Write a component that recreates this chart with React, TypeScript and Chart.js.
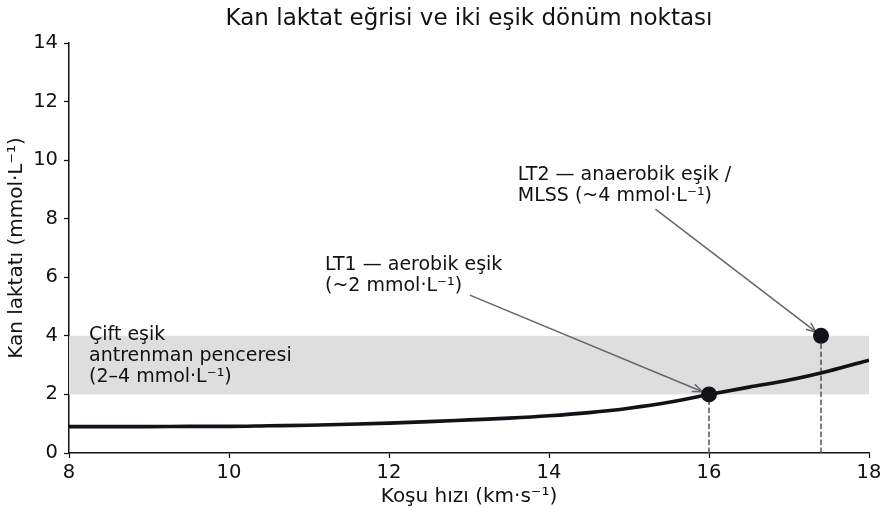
import React, { useEffect, useRef } from "react";
import { Chart, registerables } from "chart.js";

Chart.register(...registerables);

// Data
const speedKmS: number[] = [8, 8.5, 9, 9.5, 10, 10.5, 11, 11.5, 12, 12.5, 13, 13.5, 14, 14.5, 15, 15.5, 16, 16.5, 17, 17.5, 18];
const lactate: number[] = [0.9, 0.9, 0.9, 0.91, 0.91, 0.93, 0.95, 0.98, 1.02, 1.07, 1.13, 1.19, 1.27, 1.38, 1.53, 1.73, 2.0, 2.25, 2.49, 2.8, 3.17];

const thresholdSpeeds: number[] = [16, 17.4];
const thresholdLactate: number[] = [2, 4];

const bandRange: number[] = [2, 4];

const xTicks = { min: 8, max: 18, step: 2 };
const yTicks = { min: 0, max: 14, step: 2 };

const titleText = "Kan laktat eğrisi ve iki eşik dönüm noktası";
const xTitle = "Koşu hızı (km·s⁻¹)";
const yTitle = "Kan laktatı (mmol·L⁻¹)";

const bandLabel: string[] = ["Çift eşik", "antrenman penceresi", "(2–4 mmol·L⁻¹)"];
const bandLabelPos: number[] = [8.25, 3.86];

const lt1Label: string[] = ["LT1 — aerobik eşik", "(~2 mmol·L⁻¹)"];
const lt1LabelPos: number[] = [11.2, 6.25];
const lt1ArrowStart: number[] = [13.01, 5.39];

const lt2Label: string[] = ["LT2 — anaerobik eşik /", "MLSS (~4 mmol·L⁻¹)"];
const lt2LabelPos: number[] = [13.61, 9.32];
const lt2ArrowStart: number[] = [15.33, 8.33];

const FONT = '"DejaVu Sans", sans-serif';

export default function App() {
  const ref = useRef<HTMLCanvasElement | null>(null);

  useEffect(() => {
    if (!ref.current) return;

    const decor = {
      id: "decor",
      beforeDatasetsDraw(chart: any) {
        const { ctx, scales } = chart;
        const x = scales.x;
        const y = scales.y;
        ctx.save();
        // band
        ctx.fillStyle = "#dedede";
        const yTop = y.getPixelForValue(bandRange[1]);
        const yBot = y.getPixelForValue(bandRange[0]);
        const xl = x.getPixelForValue(xTicks.min);
        const xr = x.getPixelForValue(xTicks.max);
        ctx.fillRect(xl, yTop, xr - xl, yBot - yTop);
        // dashed drop lines
        ctx.strokeStyle = "#555555";
        ctx.lineWidth = 1.5;
        ctx.setLineDash([5.5, 2.5]);
        for (let i = 0; i < thresholdSpeeds.length; i++) {
          const px = x.getPixelForValue(thresholdSpeeds[i]);
          ctx.beginPath();
          ctx.moveTo(px, y.getPixelForValue(0));
          ctx.lineTo(px, y.getPixelForValue(thresholdLactate[i]));
          ctx.stroke();
        }
        ctx.setLineDash([]);
        // arrows
        const arrow = (sx: number, sy: number, tx: number, ty: number, shrink: number) => {
          const x0 = x.getPixelForValue(sx);
          const y0 = y.getPixelForValue(sy);
          const cx = x.getPixelForValue(tx);
          const cy = y.getPixelForValue(ty);
          const dx = cx - x0;
          const dy = cy - y0;
          const len = Math.hypot(dx, dy);
          const ux = dx / len;
          const uy = dy / len;
          const ex = cx - ux * shrink;
          const ey = cy - uy * shrink;
          ctx.strokeStyle = "#666666";
          ctx.lineWidth = 1.5;
          ctx.beginPath();
          ctx.moveTo(x0, y0);
          ctx.lineTo(ex, ey);
          ctx.stroke();
          const hl = 10;
          const hw = 4;
          const bx = ex - ux * hl;
          const by = ey - uy * hl;
          ctx.beginPath();
          ctx.moveTo(bx - uy * hw, by + ux * hw);
          ctx.lineTo(ex, ey);
          ctx.lineTo(bx + uy * hw, by - ux * hw);
          ctx.stroke();
        };
        arrow(lt1ArrowStart[0], lt1ArrowStart[1], thresholdSpeeds[0], thresholdLactate[0], 7);
        arrow(lt2ArrowStart[0], lt2ArrowStart[1], thresholdSpeeds[1], thresholdLactate[1], 6);
        ctx.restore();
      },
      afterDatasetsDraw(chart: any) {
        const { ctx, scales } = chart;
        const x = scales.x;
        const y = scales.y;
        ctx.save();
        ctx.fillStyle = "#111111";
        ctx.font = `19px ${FONT}`;
        ctx.textAlign = "left";
        ctx.textBaseline = "alphabetic";
        const block = (lines: string[], pos: number[]) => {
          const px = x.getPixelForValue(pos[0]);
          const py = y.getPixelForValue(pos[1]);
          lines.forEach((l, i) => ctx.fillText(l, px, py + i * 21));
        };
        block(bandLabel, bandLabelPos);
        block(lt1Label, lt1LabelPos);
        block(lt2Label, lt2LabelPos);
        ctx.restore();
      },
    };

    const chart = new Chart(ref.current, {
      type: "scatter",
      data: {
        datasets: [
          {
            label: "curve",
            data: speedKmS.map((v, i) => ({ x: v, y: lactate[i] })),
            showLine: true,
            borderColor: "#111318",
            borderWidth: 3.6,
            pointRadius: 0,
            cubicInterpolationMode: "monotone",
            order: 2,
          } as any,
          {
            label: "thresholds",
            data: thresholdSpeeds.map((v, i) => ({ x: v, y: thresholdLactate[i] })),
            showLine: false,
            pointRadius: 8,
            pointBackgroundColor: "#111318",
            pointBorderColor: "#111318",
            pointBorderWidth: 0,
            order: 1,
          } as any,
        ],
      },
      options: {
        animation: false,
        responsive: false,
        events: [],
        layout: { padding: { top: 0, left: 0, right: 16, bottom: 0 } },
        plugins: {
          legend: { display: false },
          tooltip: { enabled: false },
          title: {
            display: true,
            text: titleText,
            fullSize: false,
            color: "#111111",
            font: { family: FONT, size: 23, weight: "normal" },
            padding: { top: 5, bottom: 10.4 },
          },
        },
        scales: {
          x: {
            type: "linear",
            min: xTicks.min,
            max: xTicks.max,
            afterFit(scale: any) {
              scale.height = 57;
            },
            ticks: {
              stepSize: xTicks.step,
              color: "#111111",
              font: { family: FONT, size: 19.5 },
              padding: 3.5,
            },
            grid: {
              drawOnChartArea: false,
              drawTicks: true,
              tickLength: 5,
              tickColor: "#111111",
              tickWidth: 1.25,
            },
            border: { color: "#111111", width: 1.5 },
            title: {
              display: true,
              text: xTitle,
              color: "#111111",
              font: { family: FONT, size: 20 },
              padding: { top: 1.5, bottom: 1.5 },
            },
          },
          y: {
            type: "linear",
            min: yTicks.min,
            max: yTicks.max,
            afterFit(scale: any) {
              scale.width = 69;
            },
            ticks: {
              stepSize: yTicks.step,
              color: "#111111",
              font: { family: FONT, size: 19.5 },
              padding: 6,
            },
            grid: {
              drawOnChartArea: false,
              drawTicks: true,
              tickLength: 5,
              tickColor: "#111111",
              tickWidth: 1.25,
            },
            border: { color: "#111111", width: 1.5 },
            title: {
              display: true,
              text: yTitle,
              color: "#111111",
              font: { family: FONT, size: 20 },
              padding: { top: 4.5, bottom: 4.5 },
            },
          },
        },
      } as any,
      plugins: [decor],
    });

    return () => chart.destroy();
  }, []);

  return (
    <div style={{ position: "absolute", left: 0, top: 0, width: 885, height: 510, background: "#fff" }}>
      <canvas ref={ref} width={885} height={510} />
    </div>
  );
}
